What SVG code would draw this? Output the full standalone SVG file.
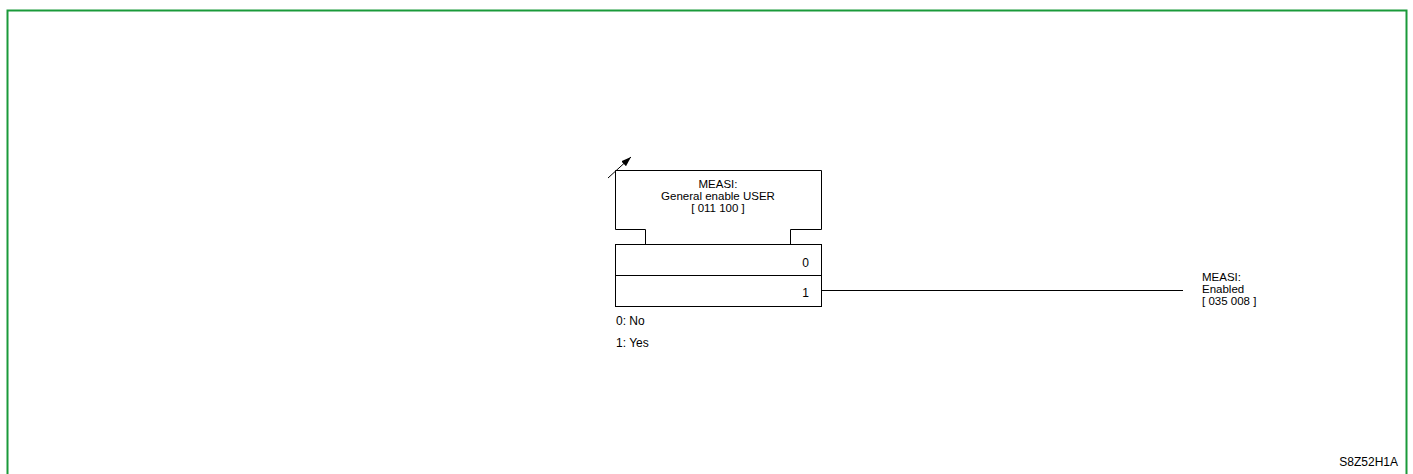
<svg xmlns="http://www.w3.org/2000/svg" width="1413" height="474" viewBox="0 0 1413 474">
<defs>
<style>
text{font-family:"Liberation Sans",Arial,sans-serif;font-size:12px;fill:#000}
.t{font-size:11.5px}
.ln{fill:none;stroke:#000;stroke-width:1}
.box{fill:#fff;stroke:#000;stroke-width:1}
</style>
<marker id="ah" viewBox="0 0 10 10" refX="10" refY="5" markerWidth="10" markerHeight="10" markerUnits="userSpaceOnUse" orient="auto">
<path d="M0,1.5 L10,5 L0,8.5 Z" fill="#000"/>
</marker>
</defs>
<rect width="1413" height="474" fill="#fff"/>
<path d="M7.5,480 V10.5 H1406.5 V480" fill="none" stroke="#1a9a3a" stroke-width="2"/>
<g id="param-node">
<path class="box" d="M615.5,170.5 H821.5 V229.5 H790.5 V244.5 H645.5 V229.5 H615.5 Z"/>
<text class="t" x="718" y="187.5" text-anchor="middle">MEASI:</text>
<text class="t" x="718" y="199.5" text-anchor="middle">General enable USER</text>
<text class="t" x="718" y="211.5" text-anchor="middle">[ 011 100 ]</text>
<rect class="box" x="615.5" y="244.5" width="206" height="31"/>
<text x="809" y="267" text-anchor="end">0</text>
<rect class="box" x="615.5" y="275.5" width="206" height="31"/>
<text x="809" y="297" text-anchor="end">1</text>
<text x="616" y="325">0: No</text>
<text x="616" y="347">1: Yes</text>
</g>
<g id="connectors">
<line class="ln" x1="608" y1="178" x2="631" y2="157" marker-end="url(#ah)"/>
<line class="ln" x1="821.5" y1="290.5" x2="1183" y2="290.5"/>
</g>
<g id="output-node">
<text class="t" x="1202" y="281">MEASI:</text>
<text class="t" x="1202" y="293">Enabled</text>
<text class="t" x="1202" y="305">[ 035 008 ]</text>
</g>
<text x="1398" y="466" text-anchor="end">S8Z52H1A</text>
</svg>
